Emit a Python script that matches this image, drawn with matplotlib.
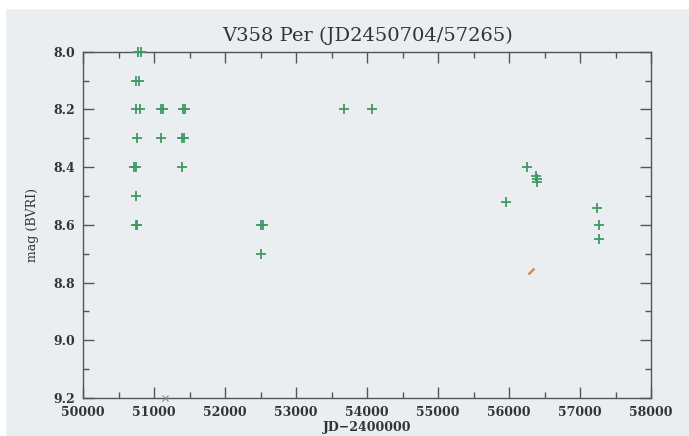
import matplotlib.pyplot as plt
from matplotlib.patches import Rectangle
from matplotlib.ticker import MultipleLocator

# Photometric estimates (JD-2400000, magnitude)
jd = [50770, 50810, 50740, 50790, 50740, 50800, 51100, 51130, 51410, 51440,
      50760, 51100, 51390, 51420, 50720, 50750, 51400, 50740, 50740, 50760,
      52500, 52530, 52510, 53680, 54070,
      55960, 56250, 56380, 56400, 56390,
      57240, 57270, 57270]
mag = [8.0, 8.0, 8.1, 8.1, 8.2, 8.2, 8.2, 8.2, 8.2, 8.2,
       8.3, 8.3, 8.3, 8.3, 8.4, 8.4, 8.4, 8.5, 8.6, 8.6,
       8.6, 8.6, 8.7, 8.2, 8.2,
       8.52, 8.40, 8.43, 8.44, 8.45,
       8.54, 8.60, 8.65]

# stray marks on the scanned plot
stray_jd = [56310]
stray_mag = [8.76]
limit_jd = [51150]
limit_mag = [9.2]

green = "#3f9a62"
bg = "#ebeef0"

fig = plt.figure(figsize=(6.89, 4.36), dpi=100)
fig.patch.set_facecolor(bg)
fig.add_artist(Rectangle((0, 0.982), 1, 0.02, transform=fig.transFigure, color="white", zorder=-1))
fig.add_artist(Rectangle((0, 0), 0.007, 1, transform=fig.transFigure, color="white", zorder=-1))

ax = fig.add_axes([0.1205, 0.0872, 0.8245, 0.794])
ax.set_facecolor(bg)

ax.plot(jd, mag, linestyle="none", marker="+", markersize=7.5, markeredgewidth=1.3,
        color=green, clip_on=False, zorder=3)
ax.plot(stray_jd, stray_mag, linestyle="none", marker=(2, 0, -45), markersize=6,
        markeredgewidth=1.8, color="#d88a4a", zorder=3)
ax.plot(limit_jd, limit_mag, linestyle="none", marker="x", markersize=5,
        markeredgewidth=0.8, color="#888888", clip_on=False, zorder=3)

ax.set_xlim(50000, 58000)
ax.set_ylim(9.2, 8.0)
ax.xaxis.set_major_locator(MultipleLocator(1000))
ax.xaxis.set_minor_locator(MultipleLocator(500))
ax.yaxis.set_major_locator(MultipleLocator(0.2))
ax.yaxis.set_minor_locator(MultipleLocator(0.1))
ax.yaxis.set_major_formatter(plt.FormatStrFormatter("%.1f"))

ax.tick_params(which="both", direction="in", top=True, right=True, color="#555555")
ax.tick_params(which="major", length=8, width=1.0)
ax.tick_params(which="minor", length=4, width=1.0)
ax.tick_params(axis="x", pad=6)
ax.tick_params(axis="y", pad=6)
for lab in ax.get_xticklabels() + ax.get_yticklabels():
    lab.set_fontfamily("DejaVu Serif")
    lab.set_fontweight("bold")
    lab.set_fontsize(9)
    lab.set_color("#333333")
for sp in ax.spines.values():
    sp.set_color("#555555")
    sp.set_linewidth(1.0)

ax.set_title("V358 Per (JD2450704/57265)", fontsize=14, family="DejaVu Serif",
             color="#333333", pad=8)
ax.set_xlabel("JD\u22122400000", fontsize=9, family="DejaVu Serif", fontweight="bold",
              color="#333333", labelpad=1)
ax.set_ylabel("mag (BVRI)", fontsize=9, family="DejaVu Serif", color="#333333", labelpad=10)

fig.savefig("out.png", dpi=100, facecolor=bg)
